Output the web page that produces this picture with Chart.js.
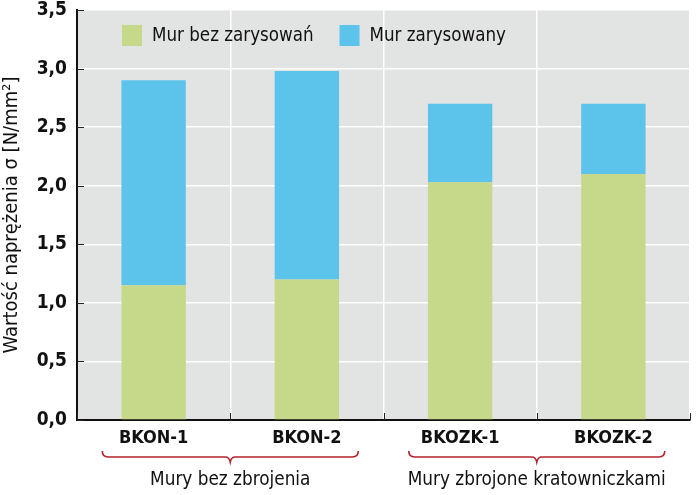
<!DOCTYPE html>
<html><head><meta charset="utf-8">
<script src="https://cdn.jsdelivr.net/npm/chart.js@4/dist/chart.umd.min.js"></script>
<style>html,body{margin:0;padding:0;background:#fff}#c{display:block}</style>
</head><body>
<div style="width:700px;height:495px"><canvas id="c" width="700" height="495"></canvas></div>
<script>
const categories = ["BKON-1", "BKON-2", "BKOZK-1", "BKOZK-2"];
const seriesNames = ["Mur bez zarysowań", "Mur zarysowany"];
const uncracked = [1.15, 1.20, 2.03, 2.10];
const cracked = [1.75, 1.78, 0.67, 0.60];
const yTicks = [0, 0.5, 1.0, 1.5, 2.0, 2.5, 3.0, 3.5];
const groups = [
  {label: "Mury bez zbrojenia", from: 0, to: 1},
  {label: "Mury zbrojone kratowniczkami", from: 2, to: 3}
];
const yTitle = "Wartość naprężenia σ [N/mm²]";

const FONT = "'Liberation Sans Narrow','DejaVu Sans Condensed','Roboto Condensed',sans-serif";
const GREEN = "#c6d98a", BLUE = "#5cc3eb";

const deco = {
  id: 'deco',
  beforeDraw(chart) {
    const {ctx, chartArea: a} = chart;
    ctx.save();
    ctx.fillStyle = '#e2e3e3';
    ctx.fillRect(a.left, a.top, a.right - a.left, a.bottom - a.top);
    ctx.restore();
  },
  afterDraw(chart) {
    const {ctx, chartArea: a, scales: {x, y}} = chart;
    ctx.save();
    ctx.strokeStyle = '#222'; ctx.lineWidth = 1;
    yTicks.forEach(v => {
      const py = Math.round(y.getPixelForValue(v)) + 0.5;
      ctx.beginPath(); ctx.moveTo(a.left, py); ctx.lineTo(a.left + 7, py); ctx.stroke();
    });
    const half = (x.getPixelForValue(1) - x.getPixelForValue(0)) / 2;
    for (let i = 0; i <= categories.length; i++) {
      const px = Math.round(x.getPixelForValue(0) - half + i * 2 * half) + 0.5;
      ctx.beginPath(); ctx.moveTo(px, a.bottom); ctx.lineTo(px, a.bottom - 7); ctx.stroke();
    }
    // legend
    ctx.font = "18.6px " + FONT;
    ctx.textBaseline = 'middle';
    let lx = a.left + 45;
    const ly = 35;
    [GREEN, BLUE].forEach((col, i) => {
      ctx.fillStyle = col;
      ctx.fillRect(lx, ly - 10, 20, 21);
      ctx.fillStyle = '#111';
      ctx.fillText(seriesNames[i], lx + 30, ly + 1);
      lx += 30 + ctx.measureText(seriesNames[i]).width + 26;
    });
    // braces and group labels
    groups.forEach(g => {
      const cx = (x.getPixelForValue(g.from) + x.getPixelForValue(g.to)) / 2;
      const l = cx - 128, r = cx + 128, by = 457;
      ctx.strokeStyle = '#b5232c'; ctx.lineWidth = 1.6;
      ctx.beginPath();
      ctx.moveTo(l, by - 6);
      ctx.quadraticCurveTo(l, by, l + 6, by);
      ctx.lineTo(cx - 5, by);
      ctx.quadraticCurveTo(cx - 1, by, cx, by + 5);
      ctx.quadraticCurveTo(cx + 1, by, cx + 5, by);
      ctx.lineTo(r - 6, by);
      ctx.quadraticCurveTo(r, by, r, by - 6);
      ctx.stroke();
      ctx.fillStyle = '#111';
      ctx.font = "18.8px " + FONT;
      ctx.textAlign = 'center';
      ctx.fillText(g.label, cx, 480);
    });
    ctx.restore();
  }
};

new Chart(document.getElementById('c'), {
  type: 'bar',
  data: {
    labels: categories,
    datasets: [
      {label: seriesNames[0], data: uncracked, backgroundColor: GREEN, categoryPercentage: 1, barPercentage: 0.42},
      {label: seriesNames[1], data: cracked, backgroundColor: BLUE, categoryPercentage: 1, barPercentage: 0.42}
    ]
  },
  options: {
    responsive: false,
    animation: false,
    layout: {padding: {left: 0, right: 10, top: 10, bottom: 0}},
    plugins: {legend: {display: false}, tooltip: {enabled: false}},
    scales: {
      x: {
        stacked: true,
        grid: {offset: true, color: '#ffffff', lineWidth: 1.5, drawTicks: false},
        border: {color: '#111', width: 2},
        ticks: {color: '#111', padding: 8, font: {family: FONT, size: 18, weight: 'bold'}},
        afterFit(s) { s.height = 75; }
      },
      y: {
        stacked: true,
        min: 0, max: 3.5,
        afterBuildTicks(s) { s.ticks = yTicks.map(v => ({value: v})); },
        grid: {color: '#ffffff', lineWidth: 1.5, drawTicks: false},
        border: {color: '#111', width: 2},
        ticks: {color: '#111', padding: 10, font: {family: FONT, size: 19, weight: 'bold'},
          callback: v => Number(v).toFixed(1).replace('.', ',')},
        title: {display: true, text: yTitle, color: '#111', padding: {top: 0, bottom: 4}, font: {family: FONT, size: 20}},
        afterFit(s) { s.width = 77; s.paddingTop = 0; s.paddingBottom = 0; }
      }
    }
  },
  plugins: [deco]
});
</script>
</body></html>
